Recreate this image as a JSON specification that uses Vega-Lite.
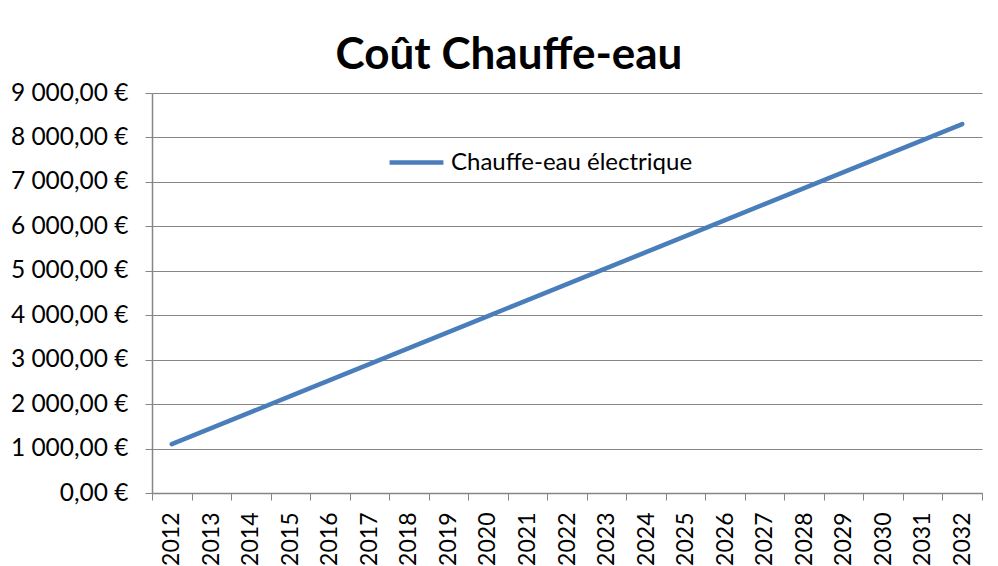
{
  "$schema": "https://vega.github.io/schema/vega-lite/v6.json",
  "width": 830,
  "height": 400,
  "autosize": {"type": "none"},
  "padding": {"left": 152, "top": 93, "right": 16, "bottom": 74},
  "background": "white",
  "config": {
    "locale": {"number": {"decimal": ",", "thousands": " ", "grouping": [3], "currency": ["", " €"]}},
    "view": {"stroke": null},
    "font": "Lato"
  },
  "title": {
    "text": "Coût Chauffe-eau",
    "font": "Lato",
    "fontSize": 44,
    "fontWeight": "bold",
    "color": "black",
    "anchor": "middle",
    "dx": -58,
    "offset": 2
  },
  "data": {
    "values": [
      {"annee": "2012", "cout": 1100, "serie": "Chauffe-eau électrique"},
      {"annee": "2013", "cout": 1460, "serie": "Chauffe-eau électrique"},
      {"annee": "2014", "cout": 1820, "serie": "Chauffe-eau électrique"},
      {"annee": "2015", "cout": 2180, "serie": "Chauffe-eau électrique"},
      {"annee": "2016", "cout": 2540, "serie": "Chauffe-eau électrique"},
      {"annee": "2017", "cout": 2900, "serie": "Chauffe-eau électrique"},
      {"annee": "2018", "cout": 3260, "serie": "Chauffe-eau électrique"},
      {"annee": "2019", "cout": 3620, "serie": "Chauffe-eau électrique"},
      {"annee": "2020", "cout": 3980, "serie": "Chauffe-eau électrique"},
      {"annee": "2021", "cout": 4340, "serie": "Chauffe-eau électrique"},
      {"annee": "2022", "cout": 4700, "serie": "Chauffe-eau électrique"},
      {"annee": "2023", "cout": 5060, "serie": "Chauffe-eau électrique"},
      {"annee": "2024", "cout": 5420, "serie": "Chauffe-eau électrique"},
      {"annee": "2025", "cout": 5780, "serie": "Chauffe-eau électrique"},
      {"annee": "2026", "cout": 6140, "serie": "Chauffe-eau électrique"},
      {"annee": "2027", "cout": 6500, "serie": "Chauffe-eau électrique"},
      {"annee": "2028", "cout": 6860, "serie": "Chauffe-eau électrique"},
      {"annee": "2029", "cout": 7220, "serie": "Chauffe-eau électrique"},
      {"annee": "2030", "cout": 7580, "serie": "Chauffe-eau électrique"},
      {"annee": "2031", "cout": 7940, "serie": "Chauffe-eau électrique"},
      {"annee": "2032", "cout": 8300, "serie": "Chauffe-eau électrique"}
    ]
  },
  "mark": {"type": "line", "strokeWidth": 4.5, "strokeCap": "round"},
  "encoding": {
    "x": {
      "field": "annee",
      "type": "ordinal",
      "scale": {"type": "band", "paddingInner": 0, "paddingOuter": 0},
      "axis": {
        "title": null,
        "labelAngle": -90,
        "labelFontSize": 23,
        "labelColor": "black",
        "labelPadding": 12,
        "tickBand": "extent",
        "tickSize": 7,
        "tickColor": "#868686",
        "domainColor": "#868686",
        "domainWidth": 1.5,
        "grid": false
      }
    },
    "y": {
      "field": "cout",
      "type": "quantitative",
      "scale": {"domain": [0, 9000], "nice": false},
      "axis": {
        "title": null,
        "values": [0, 1000, 2000, 3000, 4000, 5000, 6000, 7000, 8000, 9000],
        "format": "$,.2f",
        "labelFontSize": 24.5,
        "labelColor": "black",
        "labelPadding": 17,
        "tickSize": 7,
        "tickColor": "#868686",
        "domainColor": "#868686",
        "domainWidth": 1.5,
        "gridColor": "#868686",
        "gridWidth": 1
      }
    },
    "color": {
      "field": "serie",
      "type": "nominal",
      "scale": {"range": ["#4A7EBB"]},
      "legend": {
        "title": null,
        "orient": "none",
        "legendX": 235,
        "legendY": 40,
        "symbolType": "stroke",
        "symbolSize": 2900,
        "symbolStrokeWidth": 4.5,
        "labelFontSize": 24,
        "labelLimit": 0,
        "labelColor": "black",
        "labelOffset": 5,
        "padding": 0
      }
    }
  }
}
